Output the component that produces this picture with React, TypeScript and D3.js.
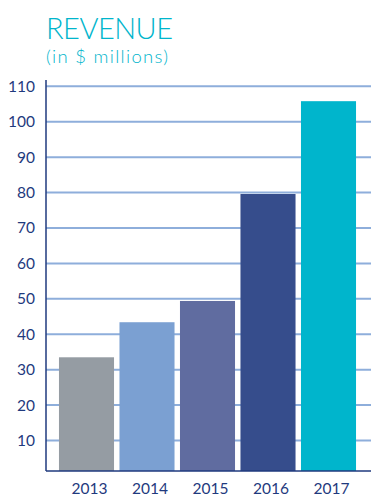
import React from "react";
import * as d3 from "d3";

const years = ["2013", "2014", "2015", "2016", "2017"];
const revenue = [33.5, 43.4, 49.4, 79.6, 105.8];
const barColors = ["#959ca3", "#7ba0d2", "#606ca0", "#364d8c", "#00b5cc"];
const yTicks = [10, 20, 30, 40, 50, 60, 70, 80, 90, 100, 110];

const W = 371;
const H = 497;
const axisX = 46;
const baseY = 471;
const topY = 86.3;

export default function App() {
  const x = d3
    .scaleBand<string>()
    .domain(years)
    .range([56.25, 358.75])
    .paddingInner(0.09)
    .paddingOuter(0.045);
  const y = d3.scaleLinear().domain([1.4, 110]).range([baseY, topY]);
  const navy = "#1f3a7e";
  const font = "Lato, 'Open Sans', sans-serif";

  return (
    <svg
      width={W}
      height={H}
      style={{ position: "absolute", left: 0, top: 0, background: "#fff" }}
    >
      <text
        x={46}
        y={39}
        fill="#00b5cc"
        fontFamily={font}
        fontWeight={300}
        fontSize={29}
        textLength={127}
        lengthAdjust="spacing"
      >
        REVENUE
      </text>
      <text
        x={46}
        y={63}
        fill="#00b5cc"
        fontFamily={font}
        fontWeight={300}
        fontSize={18.5}
        textLength={122}
        lengthAdjust="spacing"
      >
        (in $ millions)
      </text>
      {yTicks.map((t) => (
        <g key={t}>
          <line
            x1={axisX}
            x2={W}
            y1={y(t)}
            y2={y(t)}
            stroke="#8eaedb"
            strokeWidth={2}
          />
          <text
            x={35}
            y={y(t) + 5.5}
            textAnchor="end"
            fill={navy}
            fontFamily={font}
            fontSize={15.5}
          >
            {t}
          </text>
        </g>
      ))}
      {years.map((yr, i) => (
        <rect
          key={yr}
          x={x(yr)}
          y={y(revenue[i])}
          width={x.bandwidth()}
          height={baseY - y(revenue[i])}
          fill={barColors[i]}
        />
      ))}
      <line x1={axisX} x2={W} y1={baseY} y2={baseY} stroke={navy} strokeWidth={1.5} />
      <line x1={axisX} x2={axisX} y1={80} y2={baseY} stroke={navy} strokeWidth={1.5} />
      {years.map((yr) => (
        <text
          key={yr}
          x={(x(yr) as number) + x.bandwidth() / 2 + 3}
          y={494}
          textAnchor="middle"
          fill={navy}
          fontFamily={font}
          fontSize={15.5}
        >
          {yr}
        </text>
      ))}
    </svg>
  );
}
